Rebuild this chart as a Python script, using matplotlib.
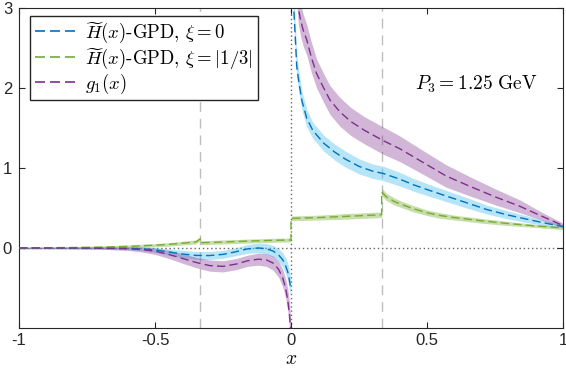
import matplotlib.pyplot as plt
import numpy as np

# valores (H-GPD xi=0, H-GPD xi=1/3, g1)

# lado negativo de x
x_neg = [-1, -0.9, -0.8, -0.7, -0.6, -0.55, -0.5, -0.45, -0.4, -0.35, -0.3, -0.25,
         -0.2, -0.16, -0.12, -0.09, -0.065, -0.045, -0.03, -0.02, -0.012, -0.006, -0.002]
gpd0_neg = [0, 0, 0, 0, -0.003, -0.01, -0.025, -0.05, -0.075, -0.093, -0.095, -0.08,
            -0.045, -0.012, 0.0, -0.01, -0.04, -0.09, -0.15, -0.22, -0.3, -0.4, -0.48]
gpd0_neg_err = [0.01, 0.01, 0.012, 0.015, 0.02, 0.025, 0.03, 0.04, 0.045, 0.05, 0.05, 0.05,
                0.05, 0.055, 0.06, 0.065, 0.07, 0.08, 0.09, 0.1, 0.11, 0.12, 0.12]
g1_neg = [0, 0, 0, -0.002, -0.01, -0.02, -0.04, -0.08, -0.13, -0.18, -0.22, -0.23,
          -0.2, -0.16, -0.14, -0.15, -0.19, -0.27, -0.38, -0.5, -0.65, -0.82, -1.0]
g1_neg_err = [0.01, 0.01, 0.012, 0.015, 0.02, 0.03, 0.04, 0.05, 0.06, 0.065, 0.07, 0.07,
              0.07, 0.07, 0.075, 0.08, 0.09, 0.1, 0.11, 0.12, 0.14, 0.15, 0.16]

# lado positivo de x
x_gpd0_pos = [0.003, 0.006, 0.01, 0.015, 0.021, 0.03, 0.04, 0.058, 0.08, 0.12, 0.16, 0.2,
              0.25, 0.3, 0.34, 0.4, 0.45, 0.5, 0.57, 0.65, 0.72, 0.8, 0.88, 0.95, 1.0]
gpd0_pos = [4.5, 3.6, 3.0, 2.68, 2.27, 2.05, 1.84, 1.62, 1.47, 1.31, 1.2, 1.11,
            1.02, 0.96, 0.93, 0.86, 0.79, 0.73, 0.65, 0.56, 0.48, 0.41, 0.35, 0.3, 0.27]
gpd0_pos_err = [0.3, 0.25, 0.2, 0.18, 0.15, 0.13, 0.12, 0.11, 0.1, 0.1, 0.1, 0.1,
                0.095, 0.09, 0.09, 0.085, 0.08, 0.075, 0.07, 0.065, 0.055, 0.05, 0.04, 0.03, 0.02]

x_g1_pos = [0.015, 0.02, 0.027, 0.035, 0.045, 0.058, 0.075, 0.094, 0.12, 0.143, 0.18, 0.22,
            0.27, 0.34, 0.4, 0.47, 0.57, 0.658, 0.75, 0.842, 0.92, 1.0]
g1_pos = [3.8, 3.3, 3.0, 2.85, 2.72, 2.6, 2.38, 2.18, 2.0, 1.85, 1.7, 1.58,
          1.47, 1.34, 1.24, 1.1, 0.9, 0.77, 0.64, 0.52, 0.4, 0.28]
g1_pos_err = [0.2, 0.2, 0.2, 0.2, 0.2, 0.19, 0.19, 0.18, 0.18, 0.18, 0.18, 0.175,
              0.17, 0.17, 0.16, 0.15, 0.14, 0.12, 0.1, 0.08, 0.05, 0.03]

# xi = 1/3, com saltos em -1/3, 0 e 1/3
x_gpd3 = [-1, -0.9, -0.8, -0.7, -0.6, -0.5, -0.45, -0.4, -0.35, -1/3,
          -1/3, -0.25, -0.15, -0.05, 0,
          0, 0.1, 0.2, 0.3, 1/3,
          1/3, 0.35, 0.38, 0.41, 0.45, 0.5, 0.55, 0.6, 0.7, 0.8, 0.9, 1.0]
gpd3 = [0, 0.003, 0.006, 0.01, 0.02, 0.035, 0.045, 0.06, 0.075, 0.115,
        0.065, 0.075, 0.087, 0.097, 0.1,
        0.37, 0.38, 0.395, 0.41, 0.415,
        0.70, 0.64, 0.58, 0.54, 0.49, 0.44, 0.405, 0.38, 0.34, 0.305, 0.275, 0.25]
gpd3_err = [0.008, 0.01, 0.012, 0.015, 0.018, 0.02, 0.022, 0.024, 0.025, 0.025,
            0.025, 0.025, 0.025, 0.025, 0.025,
            0.03, 0.03, 0.035, 0.035, 0.035,
            0.05, 0.045, 0.045, 0.04, 0.04, 0.035, 0.035, 0.03, 0.03, 0.025, 0.02, 0.02]

xticks = [-1, -0.5, 0, 0.5, 1]
xtick_labels = ['-1', '-0.5', '0', '0.5', '1']
yticks = [0, 1, 2, 3]
ytick_labels = ['0', '1', '2', '3']

azul = '#0072BD'
verde = '#77AC30'
roxo = '#7E2F8E'
azul_banda = '#4DBEEE'

plt.rcParams['mathtext.fontset'] = 'cm'
plt.rcParams['font.family'] = ['Liberation Sans', 'DejaVu Sans']

fig = plt.figure(figsize=(5.66, 3.77), dpi=100)
ax = fig.add_axes([0.0336, 0.130, 0.9611, 0.849])

# linhas de referencia
for xv in [-1/3, 1/3]:
    ax.axvline(xv, color='#BDBDBD', lw=1.0, ls=(0, (7, 5)), zorder=1)
ax.axvline(0, color='#666666', lw=1.0, ls=(0, (1, 2)), zorder=1)
ax.axhline(0, color='#666666', lw=1.0, ls=(0, (1, 2)), zorder=1)

def banda(x, y, e, cor, alpha):
    x = np.array(x); y = np.array(y); e = np.array(e)
    ax.fill_between(x, y - e, y + e, color=cor, alpha=alpha, lw=0, zorder=2)

banda(x_neg, gpd0_neg, gpd0_neg_err, azul_banda, 0.4)
banda(x_gpd0_pos, gpd0_pos, gpd0_pos_err, azul_banda, 0.4)
banda(x_gpd3, gpd3, gpd3_err, verde, 0.4)
banda(x_neg, g1_neg, g1_neg_err, roxo, 0.35)
banda(x_g1_pos, g1_pos, g1_pos_err, roxo, 0.35)

tr = (0, (6, 3))
l1, = ax.plot(x_neg, gpd0_neg, color=azul, lw=1.0, ls=tr, zorder=3)
ax.plot(x_gpd0_pos, gpd0_pos, color=azul, lw=1.0, ls=tr, zorder=3)
l2, = ax.plot(x_gpd3, gpd3, color=verde, lw=1.0, ls=tr, zorder=3)
l3, = ax.plot(x_neg, g1_neg, color=roxo, lw=1.0, ls=tr, zorder=3)
ax.plot(x_g1_pos, g1_pos, color=roxo, lw=1.0, ls=tr, zorder=3)

leg = ax.legend([l1, l2, l3],
                [r'$\widetilde{H}(x)$-GPD, $\xi=0$',
                 r'$\widetilde{H}(x)$-GPD, $\xi=|1/3|$',
                 r'$g_1(x)$'],
                loc='upper left', bbox_to_anchor=(0.02, 0.975),
                prop={'family': 'cmr10', 'size': 13.5},
                frameon=True, fancybox=False, edgecolor='#262626', framealpha=1,
                handlelength=2.2, handletextpad=0.5, borderpad=0.25, labelspacing=0.05,
                borderaxespad=0)
for h in leg.legend_handles:
    h.set_linewidth(1.2)

ax.text(0.68, 2.04, r'$P_3 = 1.25\ \mathrm{GeV}$', fontsize=14, ha='center', va='center')

ax.set_xlim(-1, 1)
ax.set_ylim(-1, 3)
ax.set_xticks(xticks)
ax.set_xticklabels(xtick_labels)
ax.set_yticks(yticks)
ax.set_yticklabels(ytick_labels)
ax.tick_params(direction='in', top=True, right=True, length=4, width=0.8,
               labelsize=12, colors='#262626')
ax.tick_params(axis='y', pad=5)
for s in ax.spines.values():
    s.set_color('#262626')
    s.set_linewidth(0.8)

ax.set_xlabel(r'$x$', fontsize=14, labelpad=2)

plt.savefig('out.png', dpi=100)
